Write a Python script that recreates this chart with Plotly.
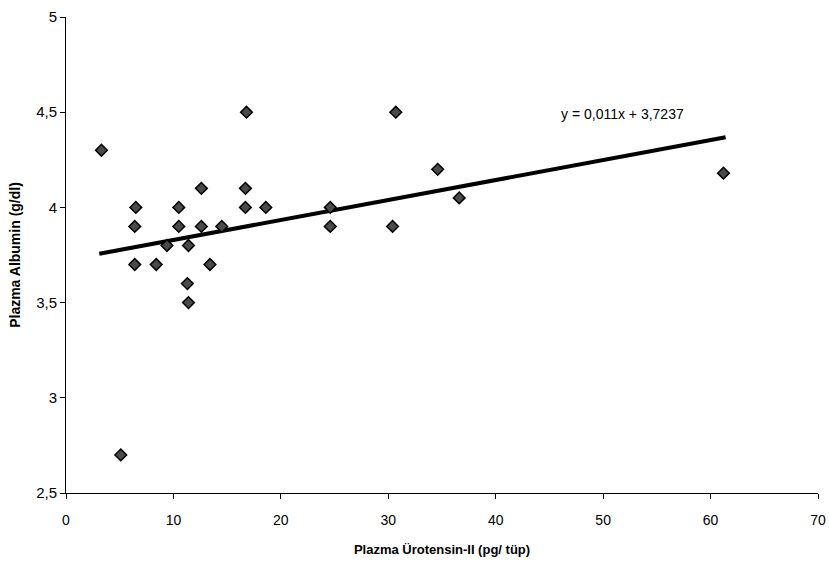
import plotly.graph_objects as go

urotensin = [3.3, 16.8, 6.5, 10.5, 12.6, 16.7, 16.7, 18.6, 6.4, 10.5, 12.6, 14.5,
             9.4, 11.4, 6.4, 8.4, 13.4, 11.3, 11.4, 30.7, 34.6, 36.6, 24.6, 24.6,
             30.4, 61.2, 5.1]
albumin = [4.3, 4.5, 4.0, 4.0, 4.1, 4.1, 4.0, 4.0, 3.9, 3.9, 3.9, 3.9,
           3.8, 3.8, 3.7, 3.7, 3.7, 3.6, 3.5, 4.5, 4.2, 4.05, 4.0, 3.9,
           3.9, 4.18, 2.7]
slope = 0.0105
intercept = 3.7237
eq_text = "y = 0,011x + 3,7237"
x_title = "Plazma Ürotensin-II (pg/ tüp)"
y_title = "Plazma Albumin (g/dl)"

x0, x1 = 3.1, max(urotensin) + 0.2
fig = go.Figure()
fig.add_trace(go.Scatter(
    x=[x0, x1], y=[slope * x0 + intercept, slope * x1 + intercept],
    mode="lines", line=dict(color="black", width=4), showlegend=False))
fig.add_trace(go.Scatter(
    x=urotensin, y=albumin, mode="markers",
    marker=dict(symbol="diamond", size=9, color="#4a4a4a",
                line=dict(color="black", width=1.5)),
    showlegend=False))

fig.add_annotation(x=51.8, y=4.49, text=eq_text, showarrow=False,
                   font=dict(family="Liberation Sans, Arial", size=14, color="black"))

font = dict(family="Liberation Sans, Arial", color="black")
fig.update_layout(
    width=829, height=568,
    margin=dict(l=66, r=11, t=17, b=75),
    paper_bgcolor="white", plot_bgcolor="white",
    separators=", ",
    font=font,
    xaxis=dict(range=[0, 70], dtick=10, showline=True, linecolor="black", linewidth=1,
               ticks="outside", ticklen=5, tickcolor="black", showgrid=False, zeroline=False,
               automargin=False, tickfont=dict(size=14), ticklabelstandoff=9,
               title=dict(text="<b>" + x_title + "</b>", font=dict(size=13), standoff=18)),
    yaxis=dict(range=[2.5, 5], dtick=0.5, showline=True, linecolor="black", linewidth=1,
               ticks="outside", ticklen=5, tickcolor="black", showgrid=False, zeroline=False,
               automargin=False, tickfont=dict(size=15),
               title=dict(text="<b>" + y_title + "</b>", font=dict(size=14), standoff=12)),
)
fig.write_html(
    "out.html",
    config={"displayModeBar": False},
    post_script="document.body.style.margin='0';document.body.style.overflow='hidden';",
)
